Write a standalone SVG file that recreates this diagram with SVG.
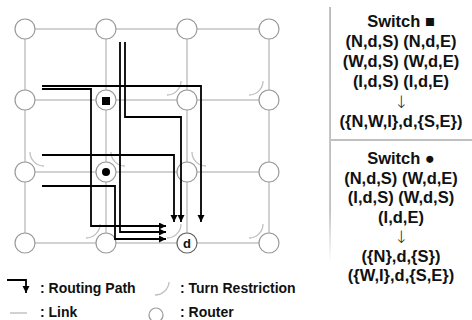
<svg xmlns="http://www.w3.org/2000/svg" width="472" height="320" viewBox="0 0 472 320">
<defs>
<marker id="ah" markerUnits="userSpaceOnUse" markerWidth="8" markerHeight="8" refX="7" refY="3.5" orient="auto"><path d="M0,0 L7,3.5 L0,7 z" fill="#000"/></marker>
<linearGradient id="fade" x1="0" y1="0" x2="0" y2="1"><stop offset="0" stop-color="#aaa"/><stop offset="0.8" stop-color="#b4b4b4"/><stop offset="1" stop-color="#fff"/></linearGradient>
<style>
.link{stroke:#c3c3c3;stroke-width:1.5;fill:none}
.rt{fill:#fff;stroke:#9a9a9a;stroke-width:1.2}
.tr{stroke:#c0c0c0;stroke-width:1.3;fill:none}
.path{stroke:#000;stroke-width:1.8;fill:none;marker-end:url(#ah)}
.lg{font-family:"Liberation Sans",Arial,sans-serif;font-weight:bold;font-size:14px;fill:#111}
.sw{font-family:"Liberation Sans",Arial,sans-serif;font-weight:bold;font-size:16.5px;fill:#111;text-anchor:middle}
.ar{font-family:"DejaVu Sans",sans-serif;font-weight:200;font-size:17px;fill:#222;text-anchor:middle}
</style>
</defs>
<rect width="472" height="320" fill="#fff"/>
<g id="links">
<path class="link" d="M25,29H269M25,100H269M25,172H269M25,243H269M25,29V243M106,29V243M187,29V243M269,29V243"/>
</g>
<g id="restrictions">
<path class="tr" d="M167,95 A14 14 0 0 0 181,81"/>
<path class="tr" d="M249,95 A14 14 0 0 0 263,81"/>
<path class="tr" d="M86,238 A14 14 0 0 0 100,224"/>
<path class="tr" d="M167,238 A14 14 0 0 0 181,224"/>
<path class="tr" d="M249,238 A14 14 0 0 0 263,224"/>
<path class="tr" d="M30,152 A14 14 0 0 0 44,166"/>
<path class="tr" d="M111,152 A14 14 0 0 0 125,166"/>
<path class="tr" d="M192,152 A14 14 0 0 0 206,166"/>
</g>
<g id="routers">
<circle class="rt" cx="25" cy="29" r="10"/><circle class="rt" cx="106" cy="29" r="10"/><circle class="rt" cx="187" cy="29" r="10"/><circle class="rt" cx="269" cy="29" r="10"/>
<circle class="rt" cx="25" cy="100" r="10"/><circle class="rt" cx="187" cy="100" r="10"/><circle class="rt" cx="269" cy="100" r="10"/>
<circle class="rt" cx="25" cy="172" r="10"/><circle class="rt" cx="187" cy="172" r="10"/><circle class="rt" cx="269" cy="172" r="10"/>
<circle class="rt" cx="25" cy="243" r="10"/><circle class="rt" cx="106" cy="243" r="10"/><circle class="rt" cx="269" cy="243" r="10"/>
</g>
<g id="switch-square"><circle class="rt" cx="106" cy="100" r="10"/><rect x="102" y="97" width="8" height="8" fill="#000"/></g>
<g id="switch-dot"><circle class="rt" cx="106" cy="172" r="10"/><circle cx="106" cy="172" r="4" fill="#000"/></g>
<g id="dest"><circle cx="187" cy="243" r="10" fill="#fff" stroke="#666" stroke-width="1.2"/><text x="187" y="247.5" text-anchor="middle" font-family="Liberation Sans, Arial, sans-serif" font-weight="bold" font-size="13" fill="#111">d</text></g>
<g id="connectors">
<path class="path" d="M42,86H201V222"/>
<path class="path" d="M125,42V117H181V222"/>
<path class="path" d="M120,42V232H166"/>
<path class="path" d="M42,89H91V226H166"/>
<path class="path" d="M42,155H174V222"/>
<path class="path" d="M42,186H115V239H166"/>
</g>
<g id="legend">
<path class="path" d="M7,280H26V293"/>
<text class="lg" x="40" y="293">: Routing Path</text>
<path class="tr" d="M155,295 A14 14 0 0 0 169,282"/>
<text class="lg" x="180" y="293">: Turn Restriction</text>
<line class="link" x1="10" y1="313" x2="27" y2="313"/>
<text class="lg" x="40" y="317">: Link</text>
<circle class="rt" cx="156" cy="315" r="7"/>
<text class="lg" x="180" y="317">: Router</text>
</g>
<g id="panel">
<rect x="329.3" y="7" width="1.5" height="255" fill="url(#fade)"/>
<line x1="331" y1="140" x2="472" y2="140" stroke="#aaa" stroke-width="1.5"/>
<text class="sw" x="401" y="27">Switch ■</text>
<text class="sw" x="401" y="47">(N,d,S) (N,d,E)</text>
<text class="sw" x="401" y="67">(W,d,S) (W,d,E)</text>
<text class="sw" x="401" y="87">(I,d,S) (I,d,E)</text>
<text class="ar" x="401" y="108">↓</text>
<text class="sw" x="401" y="127">({N,W,I},d,{S,E})</text>
<text class="sw" x="401" y="164">Switch ●</text>
<text class="sw" x="401" y="183.5">(N,d,S) (W,d,E)</text>
<text class="sw" x="401" y="203">(I,d,S) (W,d,S)</text>
<text class="sw" x="401" y="222.5">(I,d,E)</text>
<text class="ar" x="401" y="243">↓</text>
<text class="sw" x="401" y="261.5">({N},d,{S})</text>
<text class="sw" x="401" y="281">({W,I},d,{S,E})</text>
</g>
</svg>
